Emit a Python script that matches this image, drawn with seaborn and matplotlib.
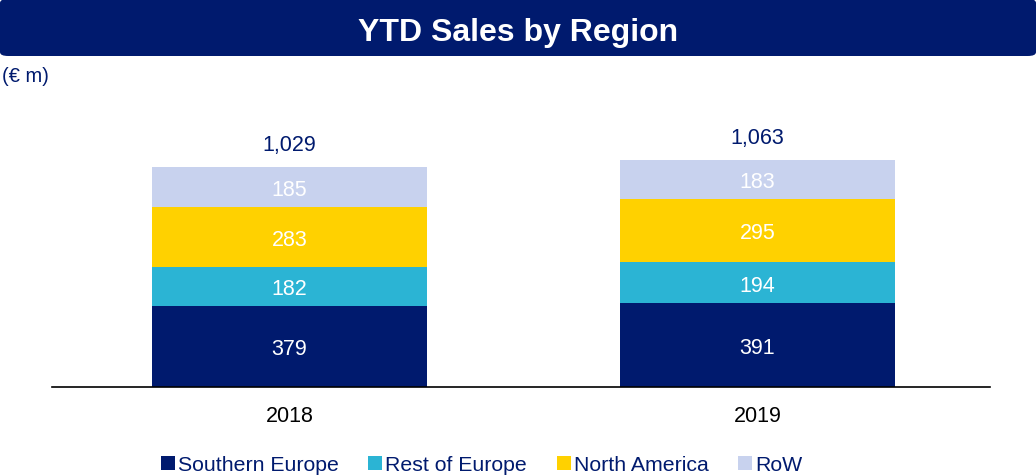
import numpy as np
import pandas as pd
import matplotlib.pyplot as plt
import seaborn as sns
from matplotlib.patches import FancyBboxPatch, Patch

# data
years = ['2018', '2019']
regions = ['Southern Europe', 'Rest of Europe', 'North America', 'RoW']
southern_europe = [379, 391]
rest_of_europe = [182, 194]
north_america = [283, 295]
row = [185, 183]
totals = ['1,029', '1,063']

colors = ['#001A6E', '#2BB4D4', '#FFD100', '#C8D2EE']
navy = '#001A6E'

sns.set_style('white')
plt.rcParams['font.family'] = ['Liberation Sans', 'DejaVu Sans']

df = pd.DataFrame({'Year': years, 'Southern Europe': southern_europe,
                   'Rest of Europe': rest_of_europe, 'North America': north_america,
                   'RoW': row})
# cumulative tops for layered stacking
cum = df[regions].cumsum(axis=1)

fig = plt.figure(figsize=(10.36, 4.77), dpi=100)
ax = fig.add_axes([52 / 1036, 1 - 388 / 477, 938 / 1036, 278 / 477])

# draw from top layer down so lower segments cover upper ones
for reg, col in reversed(list(zip(regions, colors))):
    sns.barplot(x='Year', y=reg, data=cum.assign(Year=df['Year']), color=col,
                width=0.588, saturation=1, ax=ax, linewidth=0)

ax.set_xlim(-0.5075, 1.497)
ax.set_ylim(0, 1300)

# segment labels
for i in range(len(years)):
    base = 0
    for reg in regions:
        v = df.loc[i, reg]
        ax.text(i, base + v / 2, f'{v}', ha='center', va='center_baseline', color='white', fontsize=15.5)
        base += v
    ax.text(i, base + 115, totals[i], ha='center', va='center_baseline', color=navy, fontsize=15.5)

sns.despine(ax=ax, left=True)
ax.spines['bottom'].set_color('black')
ax.spines['bottom'].set_linewidth(1.2)
ax.set_yticks([])
ax.set_xlabel('')
ax.set_ylabel('')
ax.tick_params(axis='x', length=0, pad=13, labelsize=15.5, labelcolor='black')

# title banner
banner = FancyBboxPatch((0.0, 1 - 57 / 477), 1.0, 57 / 477,
                        boxstyle='round,pad=0,rounding_size=0.008',
                        transform=fig.transFigure, facecolor=navy, edgecolor='none')
fig.patches.append(banner)
fig.text(0.5, 1 - 30 / 477, 'YTD Sales by Region', ha='center', va='center_baseline',
         color='white', fontsize=23, fontweight='bold')
fig.text(0.002, 1 - 76 / 477, '(€ m)', ha='left', va='center', color=navy, fontsize=14.5)

handles = [Patch(facecolor=c, edgecolor='none', label=r) for r, c in zip(regions, colors)]
fig.legend(handles=handles, loc='center', bbox_to_anchor=(0.465, 1 - 466 / 477), ncol=4,
           frameon=False, fontsize=15.3, handlelength=0.65, handleheight=0.65,
           handletextpad=0.15, columnspacing=1.4, labelcolor=navy)

fig.savefig('out.png', dpi=100)
